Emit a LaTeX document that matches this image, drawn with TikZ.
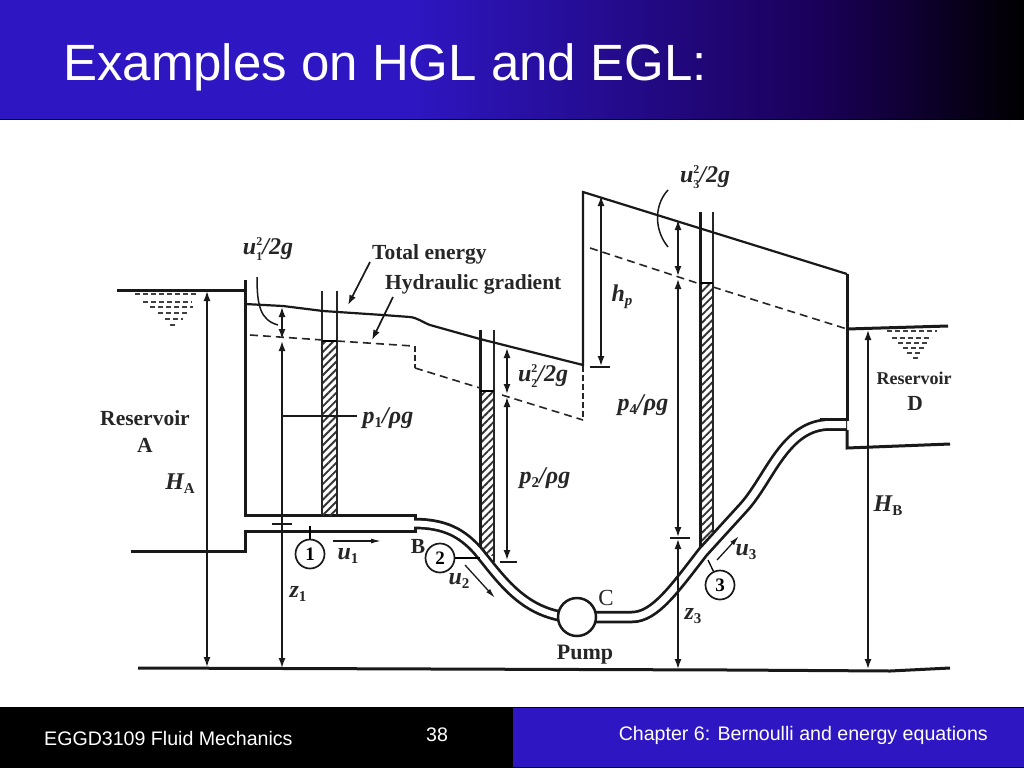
\documentclass[tikz,border=0pt]{standalone}
\usepackage{fontspec}
\setmainfont{Liberation Sans}
\newfontfamily\serif{Liberation Serif}
\usetikzlibrary{arrows.meta,patterns.meta}
\definecolor{titleblue}{HTML}{2E16C2}
\definecolor{titledark}{HTML}{1A0058}
\newcommand{\subs}[1]{\raisebox{-4pt}{\fontsize{15}{15}\selectfont\upshape #1}}
\newcommand{\both}[2]{\raisebox{-6pt}{\rlap{\fontsize{12}{12}\selectfont\upshape #1}}\raisebox{9pt}{\fontsize{12}{12}\selectfont\upshape #2}}
\tikzset{x=1pt,y=-1pt,
 wall/.style={line width=3pt,black!90},
 thin wall/.style={line width=1.6pt,black!85},
 energy/.style={line width=2.2pt,black!90},
 hgl/.style={line width=1.6pt,black!85,dash pattern=on 8pt off 5pt},
 hgt/.style={line width=1.1pt,black!85,dash pattern=on 6pt off 3pt},
 dim/.style={line width=1.5pt,black!90,{Latex[length=10pt,width=7pt]}-{Latex[length=10pt,width=7pt]}},
 one/.style={line width=1.7pt,black!90,-{Latex[length=10pt,width=7pt]}},
 flow/.style={line width=1.3pt,black!90,-{Latex[length=10pt,width=5pt]}},
 tick/.style={line width=1.6pt,black!90},
 ripple/.style={line width=1.4pt,black!75,dash pattern=on 5pt off 3pt},
 lab/.style={font=\serif\bfseries\fontsize{21.5}{21.5}\selectfont,inner sep=0pt,text=black!85},
 labd/.style={font=\serif\bfseries\fontsize{18}{18}\selectfont,inner sep=0pt,text=black!85},
 mathlab/.style={font=\serif\bfseries\itshape\fontsize{24}{24}\selectfont,inner sep=0pt,text=black!85},
 station/.style={circle,draw=black!90,line width=1.7pt,minimum size=29pt,inner sep=0pt,fill=white,font=\serif\bfseries\fontsize{19}{19}\selectfont},
 pipe/.style={line width=12.5pt,black!90},
 pipein/.style={line width=7pt,white},
 hatchcol/.style={pattern={Lines[angle=45,distance=5.5pt,line width=1.9pt]},pattern color=black!80},
 foot/.style={inner sep=0pt,text=white,font=\fontsize{19.6}{19.6}\selectfont}
}
\begin{document}
\begin{tikzpicture}
\useasboundingbox (0,0) rectangle (1024,768);
\fill[white] (0,0) rectangle (1024,768);
% title band
\fill[titleblue] (0,0) rectangle (410,119);
\shade[left color=titleblue,right color=titledark] (410,0) rectangle (820,119);
\shade[left color=titledark,right color=black] (820,0) rectangle (1024,119);
\draw[black,line width=1pt] (0,119.5) -- (1024,119.5);
\node[anchor=base west,inner sep=0pt,text=white,font=\fontsize{51}{51}\selectfont] (title) at (63,80) {Examples on HGL and EGL:};
% footer
\fill[black] (0,707) rectangle (1024,768);
\fill[titleblue] (513,708) rectangle (1024,767);
\node[anchor=west,foot] (fl) at (44,738) {EGGD3109 Fluid Mechanics};
\node[foot] (fn) at (437,735) {38};
\node[anchor=east,foot] (fr) at (988,735) {Chapter 6: Bernoulli and energy equations};

% reservoir A
\draw[wall] (117,290) -- (245,290);
\draw[wall] (245,280) -- (245,515) -- (415,515) -- (415,531) -- (245,531) -- (245,551) -- (131,551);
\foreach \a/\y/\b in {135/294/197,143/302/192,150/307/193,158/313/188,165/319/183,170/325/175}{
 \draw[ripple] (\a,\y) -- (\b,\y);}
% ground
\draw[wall] (138,668) -- (730,670) -- (890,671) -- (950,668);
% Reservoir D
\draw[wall] (847,329) -- (948,326);
\draw[wall] (847,274) -- (847,419) -- (820,419);
\draw[wall] (847,430) -- (847,448) -- (950,444);
\foreach \a/\y/\b in {887/331/937,892/338/932,898/343/928,903/348/925,907/353/922,913/358/920}{
 \draw[ripple] (\a,\y) -- (\b,\y);}
% Piezometers (hatch)
\fill[hatchcol] (323,342) rectangle (336,515);
\fill[hatchcol] (481,391) rectangle (494,555);
\fill[hatchcol] (700,283) rectangle (713,545);
\draw[thin wall] (322,291) -- (322,515);
\draw[thin wall] (337,291) -- (337,515);
\draw[wall] (480,330) -- (480,548);
\draw[thin wall] (494,330) -- (494,562);
\draw[wall] (700,212) -- (700,548);
\draw[thin wall] (713,212) -- (713,532);
\draw[line width=1.6pt] (322,341) -- (337,341);
\draw[line width=1.6pt] (480,391) -- (494,391);
\draw[line width=1.6pt] (700,283) -- (713,283);
% pipes
\draw[pipe,line width=11.5pt] (414,523.5) .. controls (445,523.5) and (462,533) .. (478,551) .. controls (500,578) and (520,608) .. (560,616);
\draw[pipe] (594,617) -- (632,617) .. controls (655,617) and (675,588) .. (703,552) -- (744,507) .. controls (770,478) and (785,424.5) .. (830,424.5) -- (847,424.5);
\draw[pipein,line width=6pt] (413,523.5) .. controls (445,523.5) and (462,533) .. (478,551) .. controls (500,578) and (520,608) .. (560,616);
\draw[pipein] (594,617) -- (632,617) .. controls (655,617) and (675,588) .. (703,552) -- (744,507) .. controls (770,478) and (785,424.5) .. (830,424.5) -- (846,424.5);
\fill[white] (246.5,516.5) rectangle (413.5,529.5);
\node[circle,draw=black!90,line width=2.5pt,fill=white,minimum size=38pt,inner sep=0pt] (pump) at (577,617) {};
% energy
\draw[energy] (245,304) -- (283,306) -- (323,311) -- (383,315) -- (410,317) .. controls (418,318) and (422,322) .. (430,325) -- (480,339) -- (583,365) -- (583,192) -- (847,274);
\draw[hgl] (250,335) -- (323,340);
\draw[hgl] (337,341) -- (413,346);
\draw[hgt] (415,346) -- (415,368);
\draw[hgl] (415,368) -- (480,388);
\draw[hgl] (502,395) -- (583,420);
\draw[hgt] (583,366) -- (583,420);
\draw[hgl] (590,248) -- (700,284);
\draw[hgl] (713,287) -- (847,329);
% dims
\draw[dim] (207,291) -- (207,667);
\draw[dim] (282,307) -- (282,339);
\draw[one] (282,416) -- (282,341);
\draw[line width=1.7pt,black!90] (282,416) -- (282,520);
\draw[one] (282,532) -- (282,668);
\draw[line width=1.7pt,black!90] (282,520) -- (282,533);
\coordinate (pr) at (357,416);
\draw[line width=2pt,black!90] (282,416) -- (pr);
\draw[tick] (272,524) -- (292,524);
\draw[dim] (507,348) -- (507,394);
\draw[dim] (507,397) -- (507,560);
\draw[tick] (500,562) -- (517,562);
\draw[dim] (601,196) -- (601,366);
\draw[tick] (590,367) -- (610,367);
\draw[dim] (678,220) -- (678,276);
\draw[dim] (678,279) -- (678,537);
\draw[tick] (670,538) -- (690,538);
\draw[dim] (678,539) -- (678,669);
\draw[dim] (868,330) -- (868,669);
% curved leaders
\draw[line width=1.5pt,black!90] (257,277) .. controls (257,305) and (260,320) .. (278,325);
\draw[line width=1.5pt,black!90] (668,190) .. controls (654,205) and (654,230) .. (668,247);
% text leaders
\coordinate (t1) at (370,262); \coordinate (t2) at (348,305);
\draw[one] (t1) -- (t2);
\coordinate (h1) at (393,297); \coordinate (h2) at (372,340);
\draw[one] (h1) -- (h2);
% flow arrows
\coordinate (f1a) at (333,541); \coordinate (f1b) at (381,541);
\coordinate (f2a) at (465,565); \coordinate (f2b) at (495,598);
\coordinate (f3a) at (717,560); \coordinate (f3b) at (739,536);
\draw[flow] (f1a) -- (f1b);
\draw[flow] (f2a) -- (f2b);
\draw[flow] (f3a) -- (f3b);
% stations
\coordinate (s1p) at (310,526);
\coordinate (s2p) at (480,558);
\coordinate (s3p) at (708,560);
\node[station] (s1) at (310,554) {1};
\node[station] (s2) at (440,558) {2};
\node[station] (s3) at (720,585) {3};
\draw[line width=1.3pt] (s1) -- (s1p);
\draw[line width=1.3pt] (s2) -- (s2p);
\draw[line width=1.3pt] (s3) -- (s3p);
% texts
\node[lab,anchor=west] (te) at (372,254) {Total energy};
\node[lab,anchor=west] (hg) at (385,284) {Hydraulic gradient};
\node[lab] (ra) at (145,418) {Reservoir};
\node[lab] (raa) at (145,445) {A};
\node[labd] (rd) at (914,378) {Reservoir};
\node[lab] (rdd) at (915,403) {D};
\node[lab] (b) at (418,546) {B};
\node[lab,font=\serif\fontsize{23}{23}\selectfont] (c) at (606,598) {C};
\node[lab,font=\serif\bfseries\fontsize{22}{22}\selectfont] (pu) at (585,655) {Pump};
\node[mathlab] (u1t) at (268,249) {u\both{1}{2}/2g};
\node[mathlab] (u3t) at (705,177) {u\both{3}{2}/2g};
\node[mathlab] (u2t) at (543,376) {u\both{2}{2}/2g};
\node[mathlab] (p1) at (388,418) {p\subs{1}/ρg};
\node[mathlab] (p2) at (545,478) {p\subs{2}/ρg};
\node[mathlab] (p4) at (643,405) {p\subs{4}/ρg};
\node[mathlab] (hp) at (622,297) {h\subs{\itshape p}};
\node[mathlab] (ha) at (180,484) {H\subs{A}};
\node[mathlab] (hb) at (888,506) {H\subs{B}};
\node[mathlab] (z1) at (298,594) {z\subs{1}};
\node[mathlab] (z3) at (693,616) {z\subs{3}};
\node[mathlab] (u1) at (348,556) {u\subs{1}};
\node[mathlab] (u2) at (459,581) {u\subs{2}};
\node[mathlab] (u3) at (746,552) {u\subs{3}};
\end{tikzpicture}
\end{document}
